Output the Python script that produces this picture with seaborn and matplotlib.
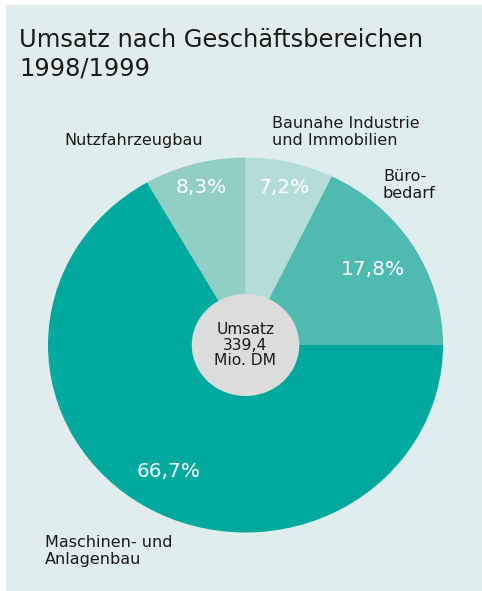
import numpy as np
import pandas as pd
import seaborn as sns
import matplotlib
matplotlib.use("Agg")
import matplotlib.pyplot as plt
from matplotlib.patches import Rectangle, Circle

# ---- data ----
segments = ["Baunahe Industrie\nund Immobilien", "Büro-\nbedarf",
            "Maschinen- und\nAnlagenbau", "Nutzfahrzeugbau"]
shares = [7.2, 17.8, 66.7, 8.3]
total_label = ["Umsatz", "339,4", "Mio. DM"]
title_lines = ["Umsatz nach Geschäftsbereichen", "1998/1999"]

df = pd.DataFrame({"segment": segments, "share": shares})

sns.set_style("white")
plt.rcParams["font.family"] = ["DejaVu Sans"]

colors = ["#b4ddd8", "#4fbab0", "#00a99e", "#92cec6"]
bg = "#e0eded"
ink = "#1a1a1a"

W, H = 482, 591
fig = plt.figure(figsize=(W / 100, H / 100), dpi=100)
fig.patch.set_facecolor("white")
fig.patches.append(Rectangle((6 / W, 0), 1 - 6 / W, 1 - 5 / H, transform=fig.transFigure,
                             facecolor=bg, edgecolor="none", zorder=-1))

# pie axes (slightly squashed ellipse like the reference)
cx, cy, rx, ry = 245.5, 345.0, 197.5, 187.5
ax = fig.add_axes([(cx - rx) / W, (H - cy - ry) / H, 2 * rx / W, 2 * ry / H])
ax.set_zorder(2)
ax.set_facecolor("none")

wedges, _, autotexts = ax.pie(
    df["share"], colors=colors, startangle=90, counterclock=False,
    radius=1.0, center=(0, 0),
    autopct=lambda p: f"{p:.1f}".replace(".", ",") + "%",
    pctdistance=0.8,
    wedgeprops=dict(linewidth=0),
    textprops=dict(color="white", fontsize=14.5),
)
ax.set_aspect("auto")
ax.set_xlim(-1, 1)
ax.set_ylim(-1, 1)
ax.axis("off")

# percent label radii (layout)
pct_r = [0.86, 0.76, 0.78, 0.87]
for w, t, r in zip(wedges, autotexts, pct_r):
    ang = np.deg2rad((w.theta1 + w.theta2) / 2)
    t.set_position((r * np.cos(ang), r * np.sin(ang)))
    t.set_ha("center")
    t.set_va("center")

ax.add_patch(Circle((0, 0), 0.272, facecolor="#dcdcdc", edgecolor="none", zorder=5))
ax.text(0, 0.0, "\n".join(total_label), ha="center", va="center", fontsize=11.2,
        color=ink, linespacing=1.05, zorder=6)

# title
fig.text(19 / W, 1 - 40 / H, title_lines[0], fontsize=17.4, color=ink, va="center", ha="left", zorder=3)
fig.text(19 / W, 1 - 69 / H, title_lines[1], fontsize=17.4, color=ink, va="center", ha="left", zorder=3)

# category labels
label_pos = [(272, 132), (383, 185), (45, 551), (64, 141)]
for lab, (x, y) in zip(df["segment"], label_pos):
    fig.text(x / W, 1 - y / H, lab, fontsize=11.5, color=ink, ha="left", va="center",
             linespacing=1.12, zorder=3)

fig.savefig("out.png", dpi=100, facecolor=fig.get_facecolor())
